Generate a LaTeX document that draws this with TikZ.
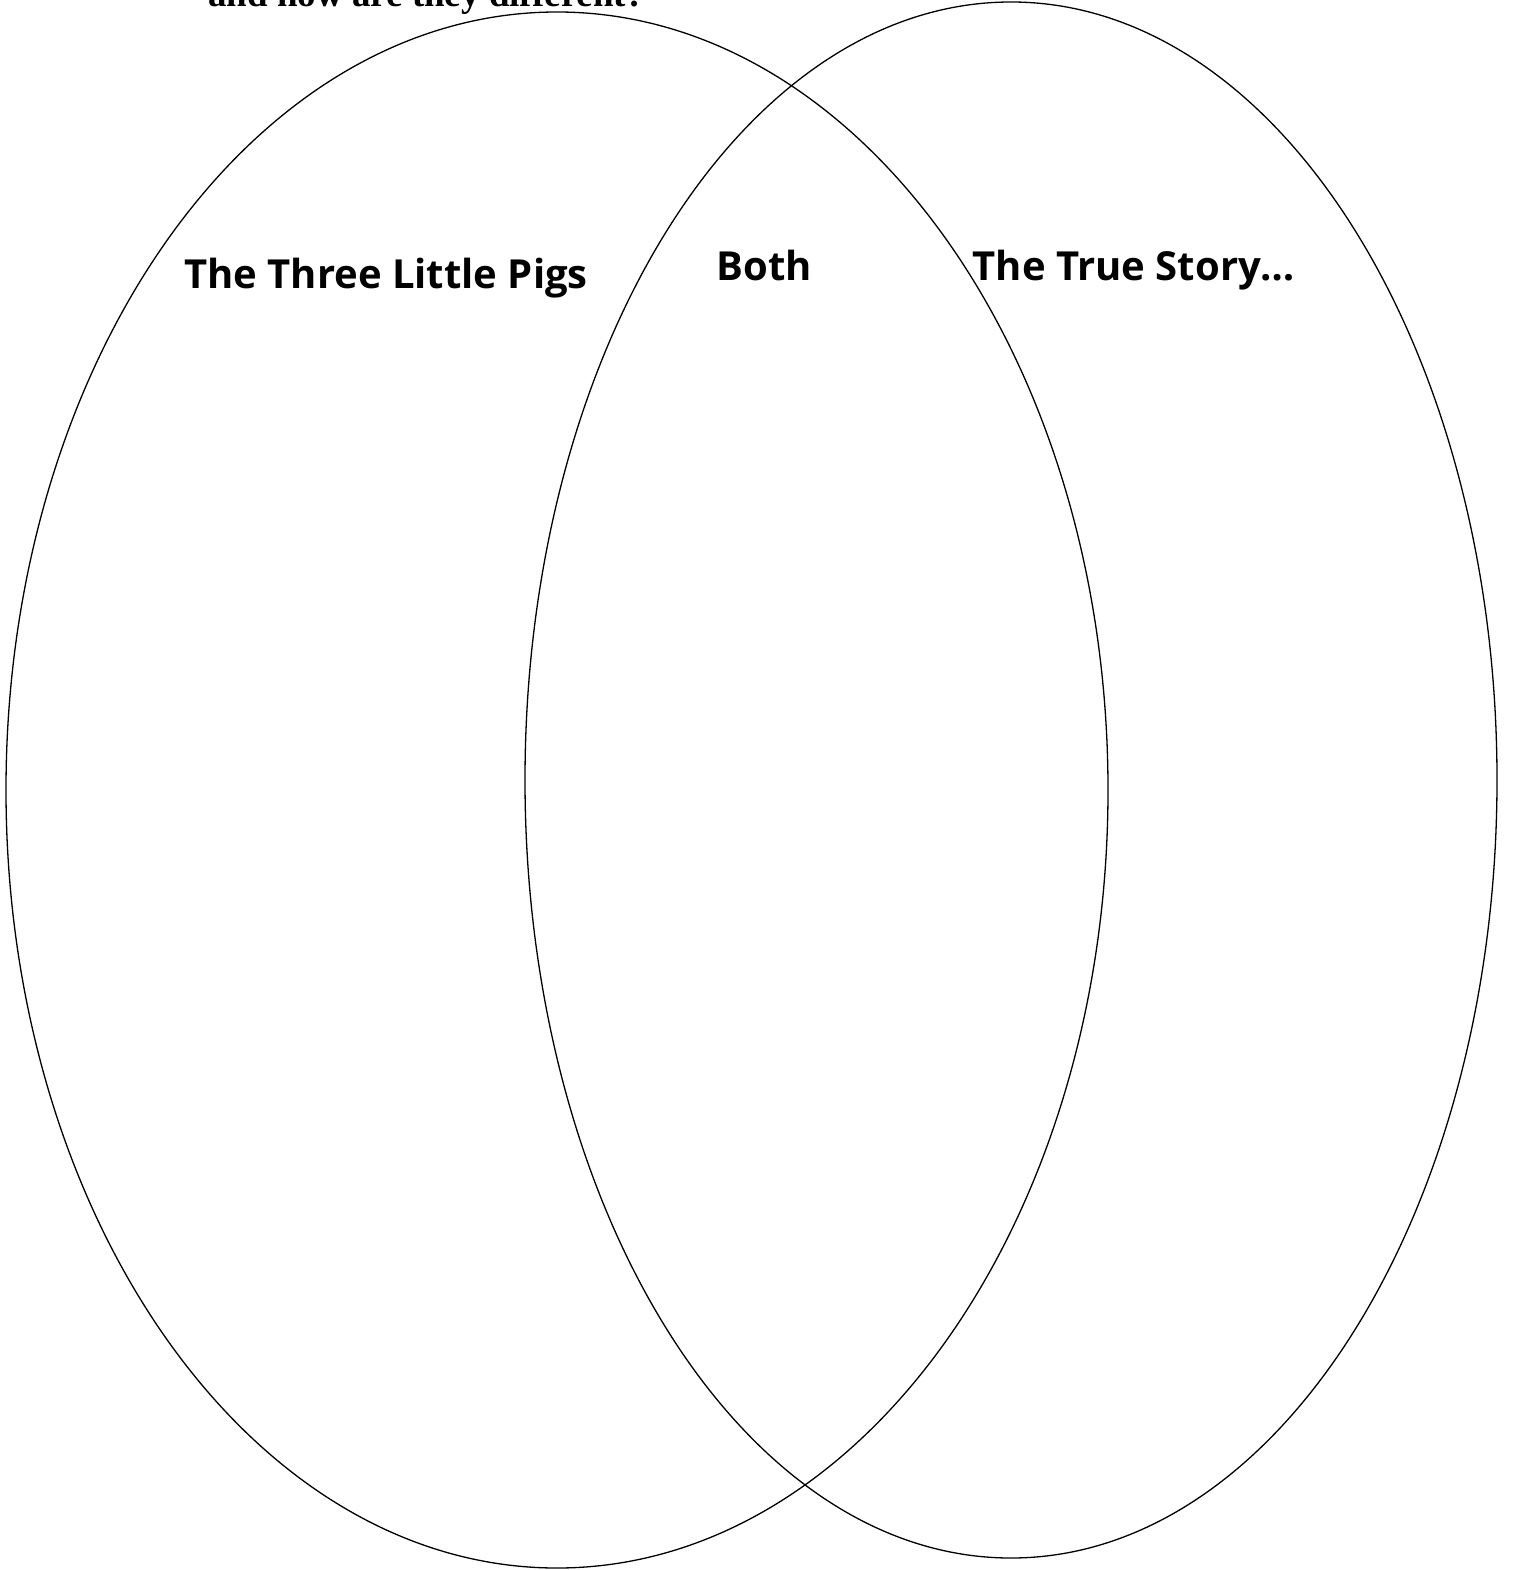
\documentclass[tikz,border=0pt]{standalone}
\usepackage{fontspec}
\setmainfont{Open Sans}
\newfontfamily\titlefont{Liberation Serif}
\begin{document}
\begin{tikzpicture}[x=1pt,y=-1pt,
  ring/.style={draw=black,line width=1.3pt},
  label/.style={font=\bfseries\fontsize{40}{48}\selectfont,inner sep=0pt,anchor=base}]
\useasboundingbox (0,0) rectangle (1513,1570);
\node[anchor=base west,inner sep=0pt,font=\titlefont\bfseries\fontsize{37}{44}\selectfont] (title) at (208,7) {and how are they different?};
\draw[ring] (557,790) ellipse [x radius=551,y radius=778];
\draw[ring] (1011,780) ellipse [x radius=486,y radius=778];
\node[label] (pigs) at (386,288) {The Three Little Pigs};
\node[label] (both) at (764,280) {Both};
\node[label] (story) at (1134,280) {The True Story\ldots};
\end{tikzpicture}
\end{document}
